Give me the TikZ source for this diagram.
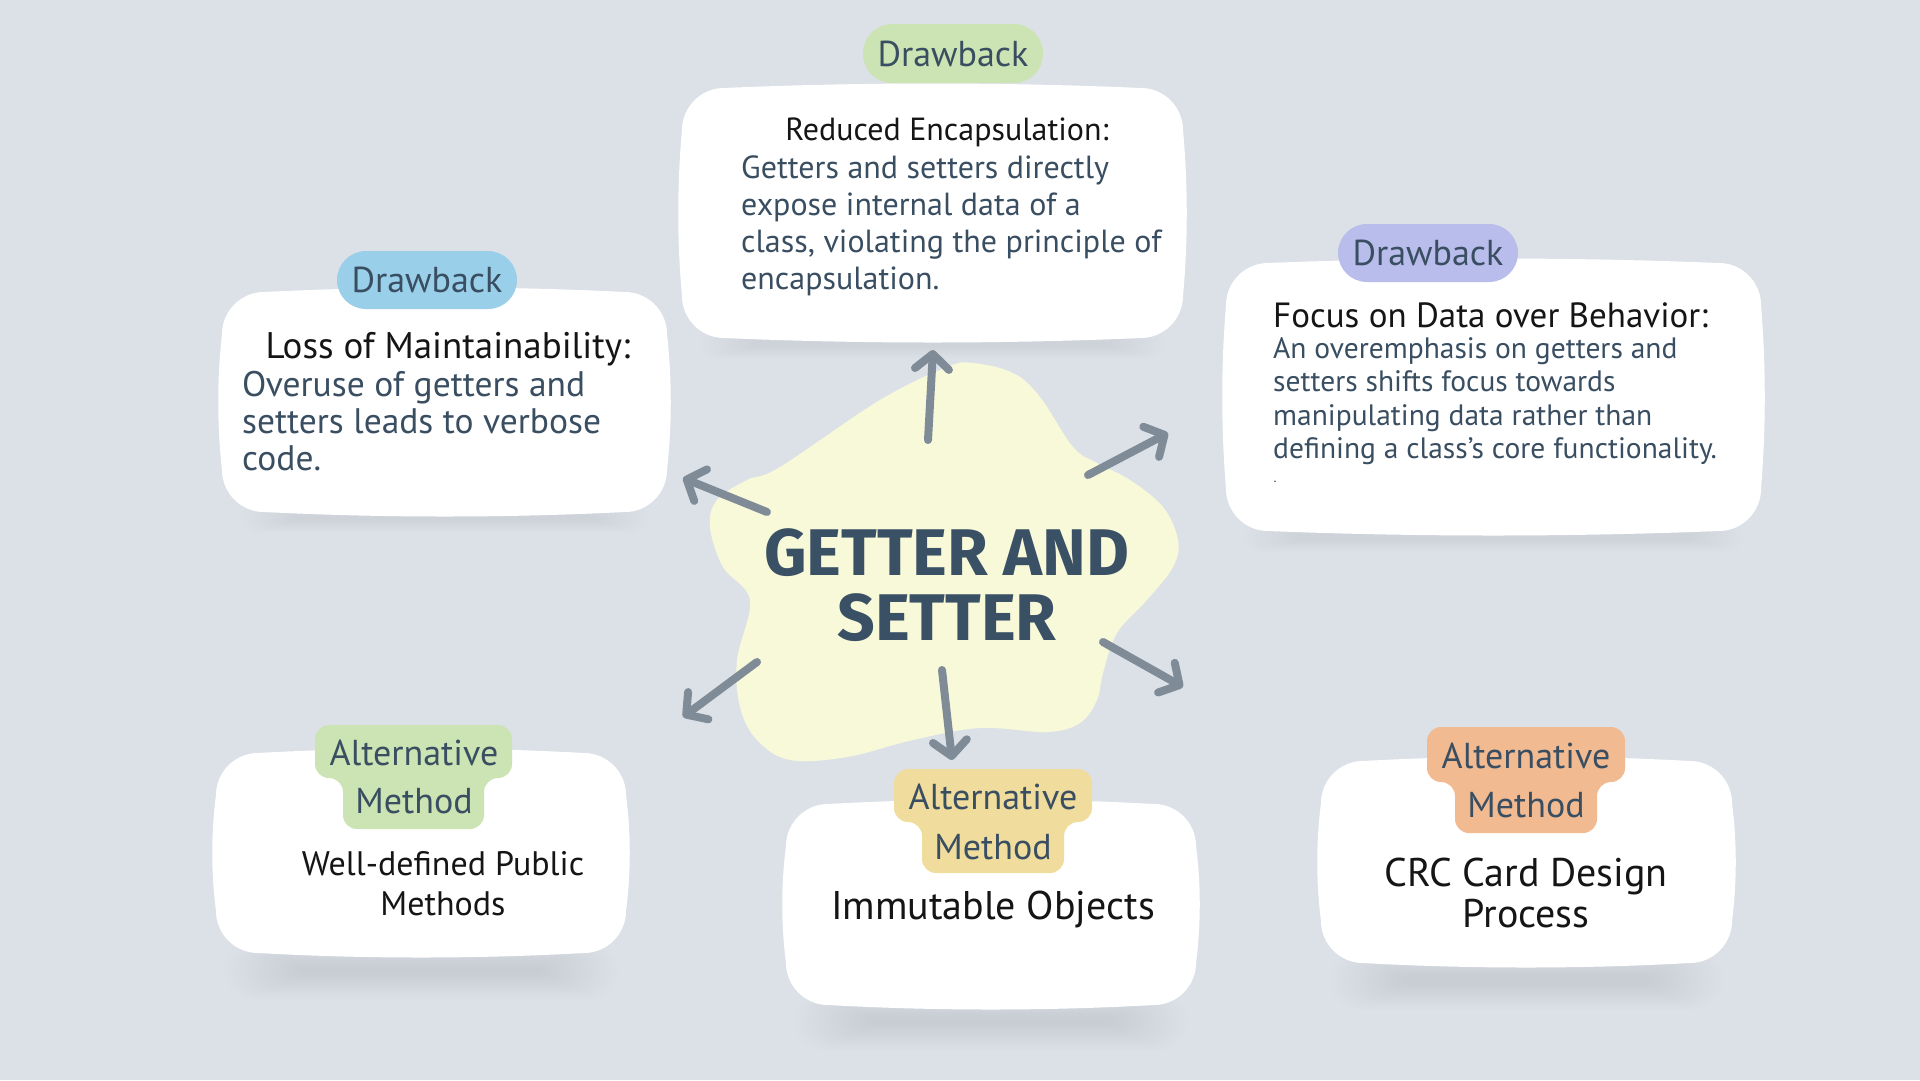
\documentclass[tikz,border=0pt]{standalone}
\usepackage{fontspec}
\setmainfont{PT Sans}
\newfontfamily\headfont{Fira Sans}
\usetikzlibrary{arrows.meta}

\definecolor{bg}{HTML}{DCE1E8}
\definecolor{blob}{HTML}{F8F9D9}
\definecolor{ink}{HTML}{151515}
\definecolor{slate}{HTML}{3A4E62}
\definecolor{hubtext}{HTML}{3A5064}
\definecolor{arrowgray}{HTML}{7F8C97}
\definecolor{pgreen}{HTML}{CCE4B3}
\definecolor{pblue}{HTML}{9ACFEA}
\definecolor{ppurple}{HTML}{B8BDEB}
\definecolor{pyellow}{HTML}{F0DC9D}
\definecolor{porange}{HTML}{F2BA91}

\newcommand\fs[2]{\fontsize{#1}{#2}\selectfont}

% soft shadow: centre x, centre y, outer half width, width step, height step, layers
\newcommand\softshadow[6]{%
  \foreach \i in {1,...,#6}{%
    \pgfmathsetmacro\hw{#3-#4*(#6-\i)}%
    \pgfmathsetmacro\hh{2+#5*\i}%
    \fill[black,opacity=0.0055,rounded corners=\hh pt]
      ({#1-\hw},{#2-\hh}) rectangle ({#1+\hw},{#2+\hh});}}

% white card with slightly bowed edges: name, x1, y1, x2, y2
\newcommand\cardshape[5]{%
  \coordinate (#1) at ({(#2+#4)/2},{(#3+#5)/2});
  \fill[white]
    ({#2+42},{#3})
      .. controls ({#2+42+(#4-#2-84)/3},{#3-6}) and ({#4-42-(#4-#2-84)/3},{#3-6}) .. ({#4-42},{#3})
      .. controls ({#4-19},{#3}) and ({#4},{#3+19}) .. ({#4},{#3+42})
      .. controls ({#4+5},{#3+42+(#5-#3-84)/3}) and ({#4+5},{#5-42-(#5-#3-84)/3}) .. ({#4},{#5-42})
      .. controls ({#4},{#5-19}) and ({#4-19},{#5}) .. ({#4-42},{#5})
      .. controls ({#4-42-(#4-#2-84)/3},{#5+6}) and ({#2+42+(#4-#2-84)/3},{#5+6}) .. ({#2+42},{#5})
      .. controls ({#2+19},{#5}) and ({#2},{#5-19}) .. ({#2},{#5-42})
      .. controls ({#2-5},{#5-42-(#5-#3-84)/3}) and ({#2-5},{#3+42+(#5-#3-84)/3}) .. ({#2},{#3+42})
      .. controls ({#2},{#3+19}) and ({#2+19},{#3}) .. cycle;}

\begin{document}
\begin{tikzpicture}[x=1pt,y=-1pt,
  tagpill/.style={rounded corners=29pt, inner sep=0pt, text=slate},
  altpill/.style={rounded corners=14pt},
  tagtext/.style={text=slate, inner sep=0pt, align=center},
  headtext/.style={text=ink, inner sep=0pt},
  bodytext/.style={text=slate, inner sep=0pt, align=left, anchor=north west},
  spoke/.style={draw=arrowgray, line width=8pt, line cap=round, line join=round,
    -{Straight Barb[length=15pt,width=34pt,round]}},
]
\useasboundingbox (0,0) rectangle (1920,1080);
\fill[bg] (0,0) rectangle (1920,1080);

% ---------- central blob ----------
\fill[blob] plot[smooth cycle, tension=0.6] coordinates {
  (780,467) (880,400) (947,367) (973,363) (1013,373) (1040,397) (1073,447)
  (1097,463) (1130,480) (1163,507) (1178,540) (1173,567) (1147,600) (1117,633)
  (1103,673) (1097,700) (1080,723) (1047,732) (980,728) (913,740) (847,757)
  (790,760) (757,740) (740,707) (737,660) (750,600) (723,567) (710,527)
  (717,500) (747,480)};
\node[font=\headfont\bfseries\fs{66}{65}, text=hubtext, align=center, inner sep=0pt]
  (hub) at (947,585) {GETTER AND\\SETTER};

% ---------- shadows ----------
\softshadow{932.5}{344}{232}{4}{0.9}{14}
\softshadow{444.5}{518}{204}{4}{0.9}{14}
\softshadow{1493.5}{537}{250}{4}{0.9}{14}
\softshadow{421}{970}{197}{4}{1.4}{20}
\softshadow{991}{1021}{197}{4}{1.4}{20}
\softshadow{1526.5}{980}{197}{4}{1.4}{20}

% ---------- drawback cards ----------
\cardshape{topcard}{682}{88}{1183}{338}
\node[tagpill, fill=pgreen, minimum width=180pt, minimum height=59pt,
  font=\fs{36}{36}] (toptag) at (953,53.5) {Drawback};
\node[headtext, font=\fs{32}{36}] (toptitle) at (947,132) {Reduced Encapsulation:};
\node[bodytext, font=\fs{32}{37}] (topbody) at (741,156)
  {Getters and setters directly\\expose internal data of a\\class, violating the principle of\\encapsulation.};

\cardshape{leftcard}{222}{292}{667}{512}
\node[tagpill, fill=pblue, minimum width=180pt, minimum height=58pt,
  font=\fs{36}{36}] (lefttag) at (427,280) {Drawback};
\node[headtext, font=\fs{37}{37}] (lefttitle) at (448,349) {Loss of Maintainability:};
\node[bodytext, font=\fs{35.5}{37}] (leftbody) at (242,371)
  {Overuse of getters and\\setters leads to verbose\\code.};

\cardshape{rightcard}{1226}{263}{1761}{531}
\node[tagpill, fill=ppurple, minimum width=180pt, minimum height=58pt,
  font=\fs{36}{36}] (righttag) at (1428,253) {Drawback};
\node[headtext, anchor=west, font=\fs{35}{35}] (righttitle) at (1273,315) {Focus on Data over Behavior:};
\node[bodytext, font=\fs{29.5}{33.5}] (rightbody) at (1273,337)
  {An overemphasis on getters and\\setters shifts focus towards\\manipulating data rather than\\defining a class's core functionality.};
\node[text=slate, inner sep=0pt, font=\fs{14}{14}] (rightdot) at (1275,482) {.};

% ---------- alternative method cards ----------
\cardshape{blcard}{216}{753}{626}{953}
\fill[pgreen, altpill] (315,725) -- (512,725) -- (512,778) -- (484,778) -- (484,829)
  -- (343,829) -- (343,778) -- (315,778) -- cycle;
\node[tagtext, font=\fs{36}{48}] (bltag) at (414,777) {Alternative\\Method};
\node[headtext, align=center, font=\fs{34}{40}] (bltext) at (443,884) {Well-defined Public\\Methods};

\cardshape{bmcard}{786}{804}{1196}{1005}
\fill[pyellow, altpill] (894,769) -- (1092,769) -- (1092,822) -- (1064,822) -- (1064,873)
  -- (922,873) -- (922,822) -- (894,822) -- cycle;
\node[tagtext, font=\fs{36}{50}] (bmtag) at (993,822) {Alternative\\Method};
\node[headtext, font=\fs{40}{40}] (bmtext) at (993,909) {Immutable Objects};

\cardshape{brcard}{1321}{761}{1732}{963}
\fill[porange, altpill] (1427,727) -- (1625,727) -- (1625,782) -- (1597,782) -- (1597,833)
  -- (1455,833) -- (1455,782) -- (1427,782) -- cycle;
\node[tagtext, font=\fs{36}{49}] (brtag) at (1526,780.5) {Alternative\\Method};
\node[headtext, align=center, font=\fs{40}{41}] (brtext) at (1526,892.5) {CRC Card Design\\Process};

% ---------- spokes ----------
\coordinate (upS) at (928,440);   \coordinate (upE) at (933,350);
\coordinate (ulS) at (767,512);   \coordinate (ulE) at (683,478);
\coordinate (urS) at (1088,475);  \coordinate (urE) at (1168,433);
\coordinate (lrS) at (1103,642);  \coordinate (lrE) at (1183,687);
\coordinate (llS) at (757,662);   \coordinate (llE) at (683,717);
\coordinate (dnS) at (942,670);   \coordinate (dnE) at (952,760);
\foreach \s/\e in {upS/upE, ulS/ulE, urS/urE, lrS/lrE, llS/llE, dnS/dnE}
  \draw[spoke] (\s) -- (\e);
\end{tikzpicture}
\end{document}
